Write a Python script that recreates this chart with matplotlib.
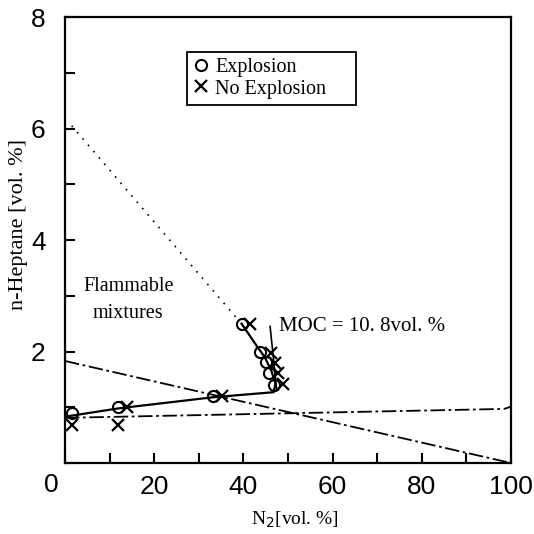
import numpy as np
import matplotlib
matplotlib.use("Agg")
import matplotlib.pyplot as plt

# Data
# ---------------------------
expl_n2 = [1.5, 12.0, 33.3, 39.6, 43.8, 45.0, 45.8, 46.8]
expl_hep = [0.9, 1.0, 1.2, 2.5, 2.0, 1.82, 1.62, 1.4]

noexpl_n2 = [1.5, 12.0, 14.0, 35.3, 41.5, 46.2, 47.2, 47.8, 48.8]
noexpl_hep = [0.68, 0.68, 1.0, 1.2, 2.5, 1.98, 1.8, 1.62, 1.42]

# flammability boundary (solid)
bound_n2 = [0.0, 12.0, 33.3, 46.8, 47.2, 46.3, 44.8, 43.0, 39.6]
bound_hep = [0.83, 0.98, 1.18, 1.27, 1.42, 1.65, 1.9, 2.1, 2.5]

# dotted line (upper)
upper_n2 = [1.5, 38.5]
upper_hep = [6.05, 2.6]

# dash-dot lines
stoich_n2 = [0.0, 100.0]
stoich_hep = [1.83, 0.0]
lower_n2 = [0.0, 98.5, 100.0]
lower_hep = [0.81, 0.97, 1.01]

# MOC leader
moc_n2 = [46.0, 47.5]
moc_hep = [2.45, 1.3]

x_ticks = [0, 20, 40, 60, 80, 100]
y_ticks = [0, 2, 4, 6, 8]

serif = ["Liberation Serif", "DejaVu Serif"]
sans = ["Liberation Sans Narrow", "Liberation Sans", "DejaVu Sans"]

fig = plt.figure(figsize=(5.34, 5.34), dpi=100)
ax = fig.add_axes([0.1217, 0.133, 0.835, 0.835])

ax.plot(upper_n2, upper_hep, ls=(0, (1, 4)), color="black", lw=1.2)
ax.plot(stoich_n2, stoich_hep, ls=(0, (8, 2, 1.5, 2)), color="black", lw=1.3)
ax.plot(lower_n2, lower_hep, ls=(0, (8, 2, 1.5, 2)), color="black", lw=1.3)
ax.plot(bound_n2, bound_hep, color="black", lw=1.6)
ax.plot(moc_n2, moc_hep, color="black", lw=1.2)

ax.plot(expl_n2, expl_hep, ls="none", marker="o", ms=8, mfc="none",
        mec="black", mew=1.5, label="Explosion")
ax.plot(noexpl_n2, noexpl_hep, ls="none", marker="x", ms=8,
        color="black", mew=1.6, label="No Explosion")

ax.text(14.2, 2.92, "Flammable\nmixtures", ha="center", va="center",
        fontsize=14.5, family=serif, linespacing=1.55)
ax.text(48.0, 2.44, "MOC = 10. 8vol. %", ha="left", va="center",
        fontsize=15, family=serif)

ax.set_xlim(0, 100)
ax.set_ylim(0, 8)
ax.set_xticks(x_ticks)
ax.set_xticklabels([""] + [str(t) for t in x_ticks[1:]])
ax.set_xticks([10, 30, 50, 70, 90], minor=True)
ax.set_yticks(y_ticks)
ax.set_yticklabels([""] + [str(t) for t in y_ticks[1:]])
ax.set_yticks([1, 3, 5, 7], minor=True)
ax.tick_params(which="both", direction="in", length=7, width=1.5,
               labelsize=19, pad=9)
ax.tick_params(axis="y", pad=14)
for lab in ax.get_xticklabels() + ax.get_yticklabels():
    lab.set_family(sans)
# single shared "0" at the corner
ax.text(-0.03, -0.05, "0", transform=ax.transAxes, ha="center", va="center",
        fontsize=19, family=sans)
for s in ax.spines.values():
    s.set_linewidth(1.6)

ax.set_xlabel("N$_2$[vol. %]", fontsize=14, family=serif)
ax.xaxis.set_label_coords(0.516, -0.105)
ax.set_ylabel("n-Heptane [vol. %]", fontsize=16, family=serif)
ax.yaxis.set_label_coords(-0.083, 0.534)

leg = ax.legend(loc="upper left", bbox_to_anchor=(0.2735, 0.81, 0.379, 0.112),
                mode="expand", prop={"family": serif, "size": 14.5},
                fancybox=False, framealpha=1, edgecolor="black",
                handlelength=0.8, handletextpad=0.3, borderpad=0.3,
                labelspacing=0.12, borderaxespad=0)
leg.get_frame().set_linewidth(1.3)

fig.savefig("out.png", dpi=100)
